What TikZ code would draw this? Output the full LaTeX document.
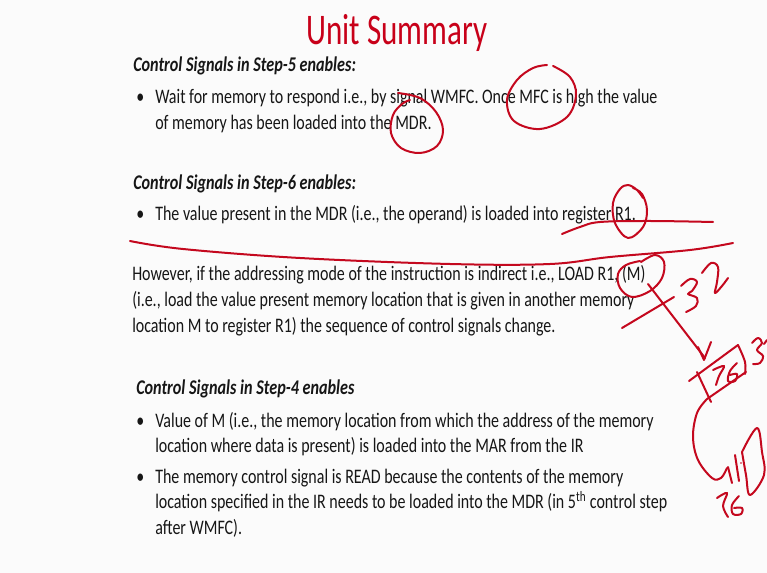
\documentclass[tikz,border=0pt]{standalone}
\usepackage{fontspec}
\setmainfont{Carlito}
\usepackage{graphicx}
\definecolor{slidebg}{RGB}{251,251,251}
\definecolor{bodyink}{RGB}{22,22,22}
\definecolor{titlered}{RGB}{200,0,25}
\definecolor{pen}{RGB}{196,8,30}
% the slide text is set narrow
\newcommand{\narrow}[1]{\scalebox{0.773}[1]{#1}}
\newcommand{\narrowtitle}[1]{\scalebox{0.71}[1]{#1}}

\begin{document}
\begin{tikzpicture}[x=0.75pt,y=-0.75pt,
  body/.style={anchor=base west, inner sep=0pt, text=bodyink, font=\fontsize{15.5}{18}\selectfont},
  head/.style={anchor=base west, inner sep=0pt, text=bodyink, font=\fontsize{15.7}{18}\selectfont\bfseries\itshape},
  heading/.style={anchor=base, inner sep=0pt, text=titlered, font=\fontsize{32.8}{38}\selectfont},
  stroke/.style={draw=pen, line width=1.5pt, line cap=round, line join=round},
  curve/.style={stroke, smooth, tension=0.6}]
\fill[slidebg] (0,0) rectangle (767,573);
\useasboundingbox (0,0) rectangle (767,573);

% title
\node[heading] (title) at (397,45) {\narrowtitle{Unit Summary}};

% step 5
\node[head] (h5) at (133,72) {\narrow{Control Signals in Step-5 enables:}};
\node[body] (b5) at (136,104) {\narrow{•}};
\node[body] (l5a) at (155,104) {\narrow{Wait for memory to respond i.e., by signal WMFC. Once MFC is high the value}};
\node[body] (l5b) at (155,130) {\narrow{of memory has been loaded into the MDR.}};

% step 6
\node[head] (h6) at (133,190) {\narrow{Control Signals in Step-6 enables:}};
\node[body] (b6) at (136,221) {\narrow{•}};
\node[body] (l6) at (155,221) {\narrow{The value present in the MDR (i.e., the operand) is loaded into register R1.}};

% indirect mode paragraph
\node[body] (p1) at (132,281) {\narrow{However, if the addressing mode of the instruction is indirect i.e., LOAD R1, (M)}};
\node[body] (p2) at (132,307) {\narrow{(i.e., load the value present memory location that is given in another memory}};
\node[body] (p3) at (132,333) {\narrow{location M to register R1) the sequence of control signals change.}};

% step 4
\node[head] (h4) at (136,394) {\narrow{Control Signals in Step-4 enables}};
\node[body] (b4a) at (136,427) {\narrow{•}};
\node[body] (l4a) at (155,427) {\narrow{Value of M (i.e., the memory location from which the address of the memory}};
\node[body] (l4b) at (155,452) {\narrow{location where data is present) is loaded into the MAR from the IR}};
\node[body] (b4b) at (136,483) {\narrow{•}};
\node[body] (l4c) at (155,483) {\narrow{The memory control signal is READ because the contents of the memory}};
\node[body] (l4d) at (155,508) {\narrow{location specified in the IR needs to be loaded into the MDR (in 5\textsuperscript{th} control step}};
\node[body] (l4e) at (155,534) {\narrow{after WMFC).}};

% pen marks: rings round MDR, MFC and R1
\draw[curve] plot coordinates {(398,93) (420,98) (436,112) (443,130) (437,146) (420,153) (401,148) (391,133) (393,115) (402,104) (410,100)};
\draw[curve] plot coordinates {(553,66) (570,77) (576,95) (567,117) (540,129) (514,121) (507,100) (517,80) (533,68) (547,65)};
\draw[curve] plot coordinates {(633,188) (642,194) (647,210) (643,227) (628,238) (615,223) (613,203) (620,189) (628,185) (637,190) (643,198)};
% underline under R1 and the separating stroke
\draw[curve] plot coordinates {(562,234) (580,227) (600,222) (650,221) (713,222)};
\draw[curve] plot coordinates {(130,241) (183,249) (300,258) (450,264) (550,264) (610,257) (690,250) (733,243)};

% ring round (M) with arrow down to the box
\draw[curve] plot coordinates {(641,262) (655,255) (664,262) (662,278) (650,291) (632,297) (620,288) (618,274) (626,265) (640,261)};
\draw[stroke] (648,284) -- (705,358);
\draw[stroke] (698,347) -- (704,360) -- (711,342);
\draw[stroke] (622,328) -- (674,297);

% handwritten 32
\draw[curve] plot coordinates {(681,286) (690,279) (697,282) (692,291) (688,294) (697,298) (696,306) (686,312)};
\draw[curve] plot coordinates {(702,273) (711,263) (718,267) (717,282) (715,293) (722,286) (728,278)};

% box holding 76
\draw[stroke] (689,381) -- (738,345);
\draw[curve] plot coordinates {(738,345) (745,362) (745,374)};
\draw[stroke] (746,372) -- (707,399);
\draw[stroke] (697,372) -- (711,402);
\draw[curve] plot coordinates {(713,370) (724,366) (719,376) (716,385)};
\draw[curve] plot coordinates {(737,363) (730,371) (728,381) (735,381) (737,374) (730,375)};
% partial 32 at the edge
\draw[curve] plot coordinates {(752,343) (758,338) (762,343) (757,350) (763,356) (760,363) (753,364)};
\draw[stroke] (764,344) -- (767,340);

% curve down to the second cell
\draw[curve] plot coordinates {(707,399) (697,413) (693,437) (698,460) (712,478) (721,478) (727,468)};
\draw[stroke] (728,467) -- (732,483);
\draw[stroke] (735,455) -- (739,481);
\draw[curve] plot coordinates {(742,452) (757,428) (762,452) (764,475) (750,495) (746,475) (742,452)};
\fill[pen] (741,463) circle (0.9);

% handwritten 76 below
\draw[curve] plot coordinates {(717,498) (727,493) (723,506) (728,517)};
\draw[curve] plot coordinates {(739,496) (732,505) (733,514) (741,514) (742,508) (734,508)};
\end{tikzpicture}
\end{document}
